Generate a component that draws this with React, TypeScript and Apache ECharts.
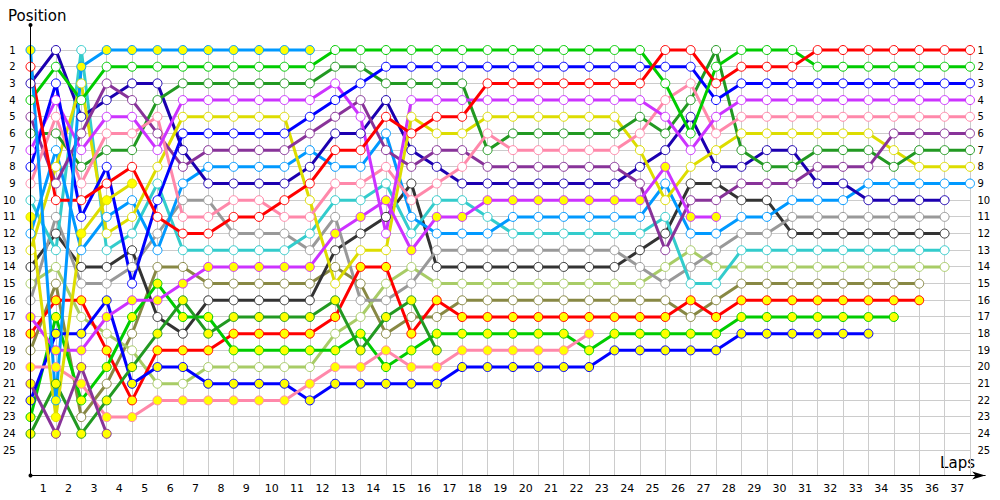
import React, { useEffect, useRef } from "react";
import * as echarts from "echarts";

const FONT = "DejaVu Sans";

// Lap numbers (0 = starting grid)
const laps = [0, 1, 2, 3, 4, 5, 6, 7, 8, 9, 10, 11, 12, 13, 14, 15, 16, 17, 18, 19, 20, 21, 22, 23, 24, 25, 26, 27, 28, 29, 30, 31, 32, 33, 34, 35, 36, 37];
const lapLabels = ["1", "2", "3", "4", "5", "6", "7", "8", "9", "10", "11", "12", "13", "14", "15", "16", "17", "18", "19", "20", "21", "22", "23", "24", "25", "26", "27", "28", "29", "30", "31", "32", "33", "34", "35", "36", "37"];

// Positions per lap (index = lap)
const redW = [2, 10, 10, 9, 8, 11, 12, 12, 11, 11, 10, 9, 7, 7, 5, 6, 5, 5, 3, 3, 3, 3, 3, 3, 3, 1, 1, 3, 2, 2, 2, 1, 1, 1, 1, 1, 1, 1];
const greenW = [4, 2, 4, 2, 2, 2, 2, 2, 2, 2, 2, 2, 1, 1, 1, 1, 1, 1, 1, 1, 1, 1, 1, 1, 1, 3, 6, 2, 1, 1, 1, 2, 2, 2, 2, 2, 2, 2];
const blueW = [8, 3, 11, 8, 15, 10, 6, 6, 6, 6, 6, 5, 4, 3, 2, 2, 2, 2, 2, 2, 2, 2, 2, 2, 2, 2, 2, 4, 3, 3, 3, 3, 3, 3, 3, 3, 3, 3];
const violetW = [7, 4, 7, 5, 5, 7, 4, 4, 4, 4, 4, 4, 3, 5, 12, 4, 4, 4, 4, 4, 4, 4, 4, 4, 4, 5, 7, 5, 4, 4, 4, 4, 4, 4, 4, 4, 4, 4];
const pinkW = [9, 5, 9, 6, 6, 5, 11, 11, 10, 10, 11, 11, 9, 9, 8, 10, 9, 8, 6, 7, 7, 7, 7, 7, 6, 4, 3, 6, 5, 5, 5, 5, 5, 5, 5, 5, 5, 5];
const dkPurpleW = [5, 9, 6, 3, 4, 6, 8, 7, 7, 7, 7, 6, 5, 4, 7, 8, 7, 7, 8, 8, 8, 8, 8, 8, 9, 13, 10, 10, 9, 9, 9, 8, 8, 8, 6, 6, 6, 6];
const dkGreenW = [6, 6, 8, 7, 7, 4, 3, 3, 3, 3, 3, 3, 2, 2, 3, 3, 3, 3, 7, 6, 6, 6, 6, 6, 5, 6, 4, 1, 7, 8, 8, 7, 7, 7, 8, 7, 7, 7];
const yellowW = [13, 8, 3, 12, 11, 8, 5, 5, 5, 5, 5, 10, 15, 13, 13, 5, 6, 6, 5, 5, 5, 5, 5, 5, 7, 10, 8, 7, 6, 6, 6, 6, 6, 6, 7, 8, 8, 8];
const lightBlueW = [12, 7, 13, 11, 10, 13, 9, 8, 8, 8, 8, 7, 8, 8, 6, 11, 12, 12, 12, 11, 11, 11, 11, 11, 11, 9, 12, 12, 11, 11, 10, 10, 10, 9, 9, 9, 9, 9];
const navyW = [3, 1, 5, 4, 3, 3, 7, 9, 9, 9, 9, 8, 6, 6, 4, 7, 8, 9, 9, 9, 9, 9, 9, 9, 8, 7, 5, 8, 8, 7, 7, 9, 9, 10, 10, 10, 10];
const grayW = [16, 11, 15, 15, 14, 12, 10, 10, 12, 12, 12, 13, 11, 16, 16, 15, 13, 13, 13, 13, 13, 13, 13, 13, 14, 15, 14, 13, 12, 12, 11, 11, 11, 11, 11, 11, 11];
const dkGrayW = [14, 12, 14, 14, 13, 17, 18, 16, 16, 16, 16, 16, 13, 12, 11, 9, 14, 14, 14, 14, 14, 14, 14, 14, 13, 12, 9, 9, 10, 10, 12, 12, 12, 12, 12, 12, 12];
const tealW = [10, 13, 1, 13, 12, 9, 13, 13, 13, 13, 13, 12, 10, 10, 9, 12, 10, 10, 11, 12, 12, 12, 12, 12, 12, 11, 15, 15, 13, 13, 13, 13, 13, 13, 13, 13, 13];
const ltGreenW = [15, 14, 17, 18, 19, 21, 21, 20, 20, 20, 20, 20, 18, 17, 15, 14, 15, 15, 15, 15, 15, 15, 15, 15, 15, 14, 13, 14, 14, 14, 14, 14, 14, 14, 14, 14, 14];
const oliveW = [19, 15, 23, 21, 18, 14, 14, 15, 15, 15, 15, 15, 14, 15, 18, 17, 17, 16, 16, 16, 16, 16, 16, 16, 16, 16, 17, 16, 15, 15, 15, 15, 15, 15, 15, 15];
const redF = [18, 16, 16, 19, 22, 19, 19, 19, 18, 18, 18, 18, 17, 14, 14, 18, 16, 17, 17, 17, 17, 17, 17, 17, 17, 17, 16, 17, 16, 16, 16, 16, 16, 16, 16, 16];
const greenF = [23, 17, 22, 20, 17, 15, 17, 17, 19, 19, 19, 19, 19, 18, 20, 19, 18, 18, 18, 18, 18, 18, 19, 18, 18, 18, 18, 18, 17, 17, 17, 17, 17, 17, 17];
const blueF = [22, 18, 18, 16, 21, 20, 20, 21, 21, 21, 21, 22, 21, 21, 21, 21, 21, 20, 20, 20, 20, 20, 20, 19, 19, 19, 19, 19, 18, 18, 18, 18, 18, 18];
const violetF = [17, 19, 19, 17, 16, 16, 15, 14, 14, 14, 14, 14, 12, 11, 10, 13, 11, 11, 10, 10, 10, 10, 10, 10, 10, 8, 11, 11];
const pinkF = [20, 20, 21, 23, 23, 22, 22, 22, 22, 22, 22, 21, 20, 20, 19, 20, 20, 19, 19, 19, 19, 19, 18];
const dkGreenF = [24, 21, 24, 22, 20, 18, 16, 18, 17, 17, 17, 17, 16, 19, 17, 16, 19];
const dkPurpleF = [21, 24, 20, 24];
const yellowF = [11, 23, 12, 10, 9];
const lightBlueF = [1, 22, 2, 1, 1, 1, 1, 1, 1, 1, 1, 1];

const WHITE = "#ffffff";
const YELLOW = "#ffff00";

const drivers = [
  { name: "Olive", color: "#888844", fill: WHITE, pos: oliveW },
  { name: "Light green", color: "#a8cc66", fill: WHITE, pos: ltGreenW },
  { name: "Dark gray", color: "#333333", fill: WHITE, pos: dkGrayW },
  { name: "Gray", color: "#999999", fill: WHITE, pos: grayW },
  { name: "Teal", color: "#33cccc", fill: WHITE, pos: tealW },
  { name: "Light blue", color: "#0099ff", fill: WHITE, pos: lightBlueW },
  { name: "Navy", color: "#1c00b0", fill: WHITE, pos: navyW },
  { name: "Yellow", color: "#dddd00", fill: WHITE, pos: yellowW },
  { name: "Dark green", color: "#229922", fill: WHITE, pos: dkGreenW },
  { name: "Dark purple", color: "#883399", fill: WHITE, pos: dkPurpleW },
  { name: "Pink", color: "#ff88aa", fill: WHITE, pos: pinkW },
  { name: "Violet", color: "#cc33ff", fill: WHITE, pos: violetW },
  { name: "Blue", color: "#0000ff", fill: WHITE, pos: blueW },
  { name: "Green", color: "#00cc00", fill: WHITE, pos: greenW },
  { name: "Red", color: "#ff0000", fill: WHITE, pos: redW },
  { name: "Red 2", color: "#ff0000", fill: YELLOW, pos: redF },
  { name: "Green 2", color: "#00cc00", fill: YELLOW, pos: greenF },
  { name: "Blue 2", color: "#0000ff", fill: YELLOW, pos: blueF },
  { name: "Violet 2", color: "#cc33ff", fill: YELLOW, pos: violetF },
  { name: "Pink 2", color: "#ff88aa", fill: YELLOW, pos: pinkF },
  { name: "Dark green 2", color: "#229922", fill: YELLOW, pos: dkGreenF },
  { name: "Dark purple 2", color: "#883399", fill: YELLOW, pos: dkPurpleF },
  { name: "Yellow 2", color: "#dddd00", fill: YELLOW, pos: yellowF },
  { name: "Light blue 2", color: "#0099ff", fill: YELLOW, pos: lightBlueF },
];

export default function App() {
  const ref = useRef<HTMLDivElement>(null);
  useEffect(() => {
    if (!ref.current) return;
    const chart = echarts.init(ref.current, undefined, { renderer: "svg" });
    const L = 30.5;
    const series = drivers.map((d) => ({
      type: "line",
      name: d.name,
      xAxisIndex: 0,
      yAxisIndex: 0,
      data: d.pos.map((p, i) => [laps[i], p]),
      symbol: "circle",
      symbolSize: 9,
      showAllSymbol: true,
      silent: true,
      lineStyle: { color: d.color, width: 3 },
      itemStyle: { color: d.fill, borderColor: d.color, borderWidth: 1 },
      emphasis: { disabled: true },
    }));
    chart.setOption({
      animation: false,
      textStyle: { fontFamily: FONT },
      title: {
        text: "Position",
        left: 3,
        top: 3,
        textStyle: { fontSize: 15, fontWeight: "normal", color: "#000", fontFamily: FONT },
      },
      graphic: [
        {
          type: "text",
          right: 25,
          top: 455,
          style: { text: "Laps", fontSize: 15, fill: "#000", fontFamily: FONT },
        },
      ],
      grid: [
        { left: L, right: 14.8, top: 25, bottom: 24.5 },
        { left: L, right: 30, top: 50, bottom: 50 },
        { left: L, right: 30, top: 47, bottom: 24.5 },
      ],
      xAxis: [
        {
          gridIndex: 0,
          type: "value",
          position: "bottom",
          min: 0,
          max: 37.6,
          axisLine: {
            show: true,
            onZero: false,
            lineStyle: { color: "#000", width: 1 },
            symbol: ["none", "arrow"],
            symbolSize: [6, 13],
          },
          axisTick: { show: false },
          axisLabel: { show: false },
          splitLine: { show: false },
          z: 5,
        },
        { gridIndex: 1, type: "value", min: 0, max: 37, show: false },
        {
          gridIndex: 2,
          type: "category",
          data: lapLabels,
          boundaryGap: true,
          axisLine: { show: false, onZero: false },
          axisTick: { show: false },
          axisLabel: { interval: 0, color: "#000", fontSize: 11, margin: 7, fontFamily: FONT },
          splitLine: { show: true, interval: 0, lineStyle: { color: "#cccccc", width: 1 } },
        },
      ],
      yAxis: [
        {
          gridIndex: 0,
          type: "value",
          position: "left",
          inverse: true,
          min: -0.5,
          max: 26.5,
          axisLine: {
            show: true,
            onZero: false,
            lineStyle: { color: "#000", width: 1 },
            symbol: ["circle", "circle"],
            symbolSize: [4, 4],
          },
          axisTick: { show: false },
          axisLabel: { show: false },
          splitLine: { show: false },
          z: 5,
        },
        {
          gridIndex: 1,
          type: "value",
          inverse: true,
          min: 1,
          max: 25,
          interval: 1,
          position: "left",
          axisLine: { show: false, onZero: false },
          axisTick: { show: false },
          axisLabel: { color: "#000", fontSize: 10, margin: 15.5, fontFamily: FONT },
          splitLine: { show: true, lineStyle: { color: "#cccccc", width: 1 } },
        },
        {
          gridIndex: 1,
          type: "value",
          inverse: true,
          min: 1,
          max: 25,
          interval: 1,
          position: "right",
          axisLine: { show: false, onZero: false },
          axisTick: { show: false },
          axisLabel: { color: "#000", fontSize: 10, margin: 7.5, fontFamily: FONT },
          splitLine: { show: false },
        },
        { gridIndex: 2, type: "value", min: 0, max: 1, show: false },
      ],
      series,
    });
    return () => chart.dispose();
  }, []);
  return (
    <div
      ref={ref}
      style={{ position: "fixed", left: 0, top: 0, width: 1000, height: 500, background: "#fff" }}
    />
  );
}
